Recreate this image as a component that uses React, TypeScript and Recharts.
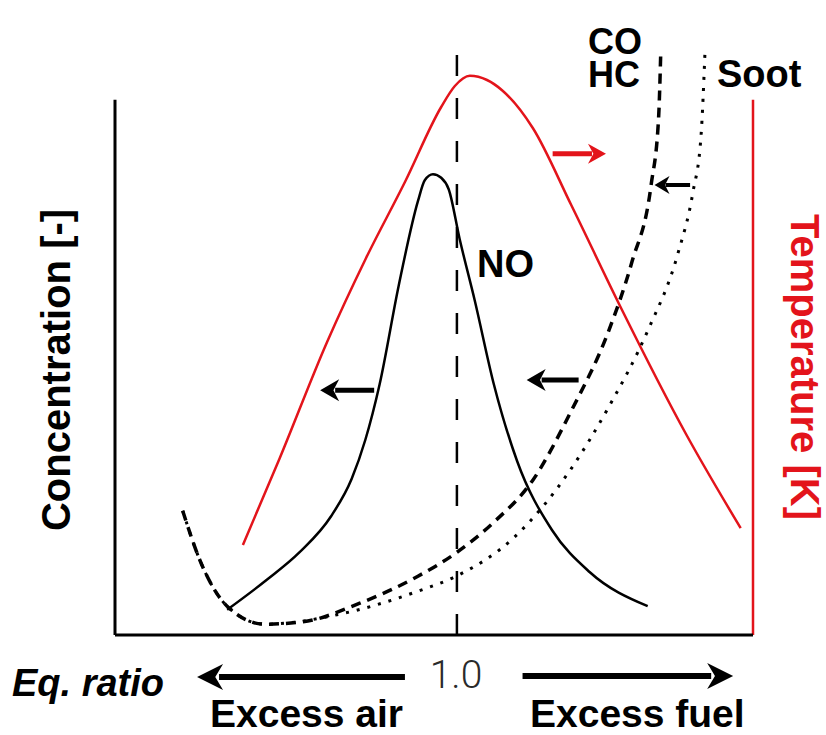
import React from "react";
import { ComposedChart, Line, XAxis, YAxis, ReferenceLine } from "recharts";

// Equivalence ratio (phi) positions and concentrations (arbitrary units, 0-100)
const tempPhi = [0.687, 0.741, 0.81, 0.867, 0.924, 0.977, 0.997, 1.019, 1.044, 1.066, 1.111, 1.167, 1.24, 1.335, 1.415];
const tempValues = [15.0, 29.5, 48.8, 62.8, 75.5, 88.0, 91.5, 93.2, 92.5, 90.8, 84.5, 71.7, 54.5, 33.5, 17.8];

const noPhi = [0.664, 0.722, 0.77, 0.816, 0.846, 0.866, 0.887, 0.915, 0.943, 0.953, 0.965, 0.977, 0.988, 1.004, 1.026, 1.054, 1.088, 1.139, 1.194, 1.279];
const noValues = [4.2, 9.2, 13.8, 19.8, 26.0, 32.5, 41.8, 58.3, 72.3, 75.8, 76.8, 76.2, 74.3, 66.0, 55.8, 41.8, 29.0, 17.5, 10.5, 4.8];

const coPhi = [0.599, 0.624, 0.664, 0.719, 0.775, 0.858, 0.943, 0.999, 1.054, 1.111, 1.167, 1.222, 1.256, 1.284, 1.295, 1.298];
const coValues = [20.7, 12.5, 4.8, 1.8, 2.2, 5.3, 9.8, 13.7, 18.8, 25.8, 37.3, 50.7, 62.2, 75.0, 86.3, 96.7];

const sootPhi = [0.599, 0.624, 0.664, 0.719, 0.83, 0.943, 0.999, 1.083, 1.167, 1.222, 1.279, 1.323, 1.345, 1.357, 1.363];
const sootValues = [20.7, 12.5, 4.8, 1.8, 3.5, 7.3, 9.8, 16.2, 27.7, 38.0, 50.7, 63.5, 73.7, 83.2, 97.8];

const xDomain = [0.5, 1.433];
const yDomain = [0, 100];
const axisTop = 89.2;
const stoichPhi = 1.0;
const stoichTop = 99.7;

// annotation arrows: [tailPhi, tipPhi, level]
const redArrow = [1.14, 1.218, 80.2];
const noLeftArrow = [0.879, 0.8, 40.8];
const noRightArrow = [1.178, 1.102, 42.5];
const coArrow = [1.341, 1.289, 75.0];
const leanArrow = [0.924, 0.62, -7.0];
const richArrow = [1.096, 1.404, -6.85];

const build = (xs: number[], ys: number[]) => xs.map((phi, i) => ({ phi, v: ys[i] }));
const tempData = build(tempPhi, tempValues);
const noData = build(noPhi, noValues);
const coData = build(coPhi, coValues);
const sootData = build(sootPhi, sootValues);

const RED = "#e3141b";
const FONT = "'Liberation Sans', Arial, Helvetica, sans-serif";

const arrowShape = (color: string, w: number, headLen: number, headHalf: number) => (props: any) => {
  const { x1, y1, x2, y2 } = props;
  if ([x1, y1, x2, y2].some((v) => typeof v !== "number" || isNaN(v))) return <g />;
  const dx = x2 - x1;
  const dy = y2 - y1;
  const len = Math.sqrt(dx * dx + dy * dy) || 1;
  const ux = dx / len;
  const uy = dy / len;
  const bx = x2 - ux * headLen;
  const by = y2 - uy * headLen;
  const px = -uy;
  const py = ux;
  const pts = `${x2},${y2} ${bx + px * headHalf},${by + py * headHalf} ${bx + ux * headLen * 0.3},${by + uy * headLen * 0.3} ${bx - px * headHalf},${by - py * headHalf}`;
  return (
    <g>
      <line x1={x1} y1={y1} x2={bx + ux * 4} y2={by + uy * 4} stroke={color} strokeWidth={w} />
      <polygon points={pts} fill={color} />
    </g>
  );
};

const arrowLine = (a: number[], key: string, shape: any) => (
  <ReferenceLine
    key={key}
    yAxisId="c"
    ifOverflow="visible"
    segment={[{ x: a[0], y: a[2] }, { x: a[1], y: a[2] }]}
    shape={shape}
  />
);

export default function App() {
  return (
    <div style={{ position: "absolute", left: 0, top: 0, width: 826, height: 735, background: "#fff" }}>
      <ComposedChart width={826} height={735} margin={{ top: 35, right: 73, bottom: 100, left: 115 }}>
        <XAxis type="number" dataKey="phi" domain={xDomain} allowDataOverflow hide />
        <YAxis yAxisId="c" type="number" domain={yDomain} allowDataOverflow hide />
        <YAxis yAxisId="t" orientation="right" type="number" domain={yDomain} allowDataOverflow hide />

        {/* axes */}
        <ReferenceLine yAxisId="c" ifOverflow="visible" segment={[{ x: xDomain[0], y: 0 }, { x: xDomain[0], y: axisTop }]} stroke="#000" strokeWidth={3} />
        <ReferenceLine yAxisId="c" ifOverflow="visible" segment={[{ x: xDomain[1], y: 0 }, { x: xDomain[1], y: axisTop }]} stroke={RED} strokeWidth={2.5} />
        <ReferenceLine yAxisId="c" ifOverflow="visible" segment={[{ x: xDomain[0], y: 0 }, { x: xDomain[1], y: 0 }]} stroke="#000" strokeWidth={3} />
        <ReferenceLine yAxisId="c" ifOverflow="visible" segment={[{ x: stoichPhi, y: 0 }, { x: stoichPhi, y: stoichTop }]} stroke="#000" strokeWidth={2.5} strokeDasharray="21 22" />

        <Line yAxisId="t" data={tempData} dataKey="v" type="monotone" stroke={RED} strokeWidth={2.5} dot={false} activeDot={false} isAnimationActive={false} />
        <Line yAxisId="c" data={noData} dataKey="v" type="monotone" stroke="#000" strokeWidth={2.5} dot={false} activeDot={false} isAnimationActive={false} />
        <Line yAxisId="c" data={coData} dataKey="v" type="monotone" stroke="#000" strokeWidth={3.5} strokeDasharray="10 7" dot={false} activeDot={false} isAnimationActive={false} />
        <Line yAxisId="c" data={sootData} dataKey="v" type="monotone" stroke="#000" strokeWidth={3} strokeDasharray="3 8" dot={false} activeDot={false} isAnimationActive={false} />

        {arrowLine(redArrow, "ra", arrowShape(RED, 5, 18, 10))}
        {arrowLine(noLeftArrow, "nl", arrowShape("#000", 5, 19, 11))}
        {arrowLine(noRightArrow, "nr", arrowShape("#000", 5, 19, 11))}
        {arrowLine(coArrow, "co", arrowShape("#000", 4, 15, 9))}
        {arrowLine(leanArrow, "la", arrowShape("#000", 6, 26, 13))}
        {arrowLine(richArrow, "rr", arrowShape("#000", 6, 26, 13))}
      </ComposedChart>

      <svg width={826} height={735} style={{ position: "absolute", left: 0, top: 0, pointerEvents: "none" }}>
        <g fontFamily={FONT} fontWeight={700}>
          <text x={70} y={370} transform="rotate(-90 70 370)" textAnchor="middle" fontSize={40} fill="#000">Concentration [-]</text>
          <text x={791} y={367} transform="rotate(90 791 367)" textAnchor="middle" fontSize={40} fill={RED}>Temperature [K]</text>
          <text x={588} y={54} fontSize={36} fill="#000">CO</text>
          <text x={588} y={87} fontSize={36} fill="#000">HC</text>
          <text x={717} y={87} fontSize={38} fill="#000">Soot</text>
          <text x={477} y={277} fontSize={38} fill="#000">NO</text>
          <text x={12} y={696} fontSize={38} fontStyle="italic" fill="#000">Eq. ratio</text>
          <text x={210} y={727} fontSize={39} fill="#000">Excess air</text>
          <text x={530} y={727} fontSize={39} fill="#000">Excess fuel</text>
        </g>
        <text x={456} y={688} textAnchor="middle" fontFamily="Roboto, 'Liberation Sans', sans-serif" fontWeight={300} fontSize={39} fill="#2a2a2a">1.0</text>
      </svg>
    </div>
  );
}
